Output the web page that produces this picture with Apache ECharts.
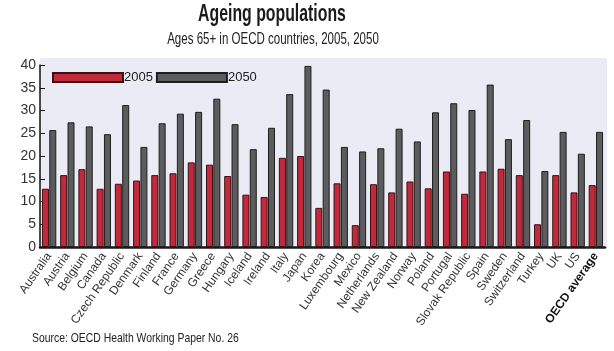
<!DOCTYPE html>
<html>
<head>
<meta charset="utf-8">
<script src="https://cdn.jsdelivr.net/npm/echarts@6/dist/echarts.min.js"></script>
<style>
  html, body { margin: 0; padding: 0; background: #ffffff; }
  #chart { width: 614px; height: 351px; }
</style>
</head>
<body>
<div id="chart"></div>
<script>
// Ageing populations: share aged 65+ in OECD countries
const countries = [
  "Australia", "Austria", "Belgium", "Canada", "Czech Republic", "Denmark",
  "Finland", "France", "Germany", "Greece", "Hungary", "Iceland", "Ireland",
  "Italy", "Japan", "Korea", "Luxembourg", "Mexico", "Netherlands",
  "New Zealand", "Norway", "Poland", "Portugal", "Slovak Republic", "Spain",
  "Sweden", "Switzerland", "Turkey", "UK", "US", "OECD average",
];
const values2005 = [
  12.8, 15.8, 17.1, 12.8, 13.9, 14.6, 15.8, 16.2, 18.6, 18.1, 15.6, 11.5,
  11.0, 19.6, 20.0, 8.6, 14.0, 4.8, 13.8, 12.0, 14.4, 12.9, 16.6, 11.7,
  16.6, 17.2, 15.8, 5.0, 15.8, 12.0, 13.6,
];
const values2050 = [
  25.7, 27.4, 26.5, 24.8, 31.2, 22.0, 27.2, 29.3, 29.7, 32.6, 27.0, 21.5,
  26.2, 33.6, 39.8, 34.6, 22.0, 21.0, 21.7, 26.0, 23.2, 29.6, 31.6, 30.1,
  35.7, 23.7, 27.9, 16.7, 25.3, 20.5, 25.3,
];
const yTicks = [0, 5, 10, 15, 20, 25, 30, 35, 40];

const sans = '"Liberation Sans", Arial, sans-serif';
const redFill = "#c22a3c";
const greyFill = "#5c5c5e";

const chart = echarts.init(document.getElementById("chart"), undefined, { renderer: "canvas" });

chart.setOption({
  backgroundColor: "#ffffff",
  animation: false,
  textStyle: { fontFamily: sans },
  graphic: [
    {
      type: "rect",
      shape: { x: 40, y: 58, width: 567, height: 190 },
      style: { fill: "#ebebf5" },
      z: -10,
    },
    // condensed look: squeeze the text horizontally
    {
      type: "text",
      x: 272, y: 2, scaleX: 0.66,
      style: {
        text: "Ageing populations", align: "center",
        font: 'bold 24px ' + sans, fill: "#1a1a1a",
      },
    },
    {
      type: "text",
      x: 273, y: 32, scaleX: 0.72,
      style: {
        text: "Ages 65+ in OECD countries, 2005, 2050", align: "center",
        font: '16px ' + sans, fill: "#222",
      },
    },
    {
      type: "text",
      x: 32, y: 332, scaleX: 0.8,
      style: {
        text: "Source: OECD Health Working Paper No. 26",
        font: '13px ' + sans, fill: "#222",
      },
    },
  ],
  legend: {
    left: 52, top: 71, padding: 0,
    itemWidth: 70, itemHeight: 9, itemGap: 3,
    icon: "rect",
    textStyle: { fontFamily: sans, fontSize: 13, color: "#222", padding: [0, 0, 0, -4] },
    data: ["2005", "2050"],
  },
  grid: { left: 40, right: 9, top: 65, bottom: 104 },
  xAxis: {
    type: "category",
    data: countries,
    axisLine: { lineStyle: { color: "#1a1a1a", width: 2.5 } },
    axisTick: { show: false },
    axisLabel: {
      interval: 0, rotate: 55, fontSize: 12, color: "#333", margin: 7,
      fontFamily: sans,
      formatter: (v) => (v === "OECD average" ? "{b|" + v + "}" : v),
      rich: { b: { fontWeight: "bold", fontSize: 12, color: "#111", fontFamily: sans } },
    },
  },
  yAxis: {
    type: "value",
    min: yTicks[0],
    max: yTicks[yTicks.length - 1],
    interval: 5,
    axisLine: { show: true, lineStyle: { color: "#111", width: 1.5 } },
    axisTick: { show: true, inside: true, length: 5, lineStyle: { color: "#111" } },
    axisLabel: { fontSize: 14, color: "#333", margin: 4, fontFamily: sans },
    splitLine: { show: false },
  },
  series: [
    {
      name: "2005", type: "bar", data: values2005,
      barWidth: 7, barGap: "5%",
      itemStyle: { color: redFill, borderColor: "#3a1015", borderWidth: 1 },
    },
    {
      name: "2050", type: "bar", data: values2050,
      barWidth: 7,
      itemStyle: { color: greyFill, borderColor: "#1e1e1e", borderWidth: 1 },
    },
  ],
});
</script>
</body>
</html>
